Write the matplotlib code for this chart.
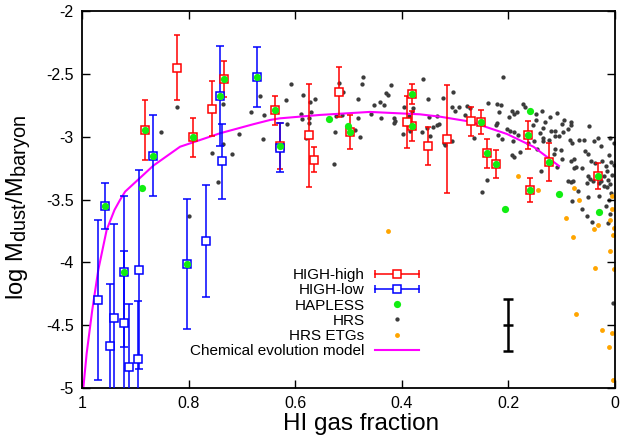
import matplotlib
matplotlib.use("Agg")
import matplotlib.pyplot as plt
from matplotlib.lines import Line2D
from matplotlib.legend_handler import HandlerBase

try:
    import matplotlib._mathtext as _mt
    _mt.SHRINK_FACTOR = 0.85
except Exception:
    pass

plt.rcParams['font.family'] = ['Liberation Sans', 'DejaVu Sans']
plt.rcParams['mathtext.default'] = 'regular'

# ---------------- data ----------------
# HIGH-high (red squares): HI fraction, log Mdust/Mbaryon, error
hh_x = [0.822, 0.882, 0.791, 0.7555, 0.7336, 0.638, 0.6285, 0.574, 0.565, 0.517, 0.497,
        0.3803, 0.3803, 0.390, 0.3514, 0.3146, 0.270, 0.2508, 0.2396, 0.2227, 0.1632,
        0.160, 0.1238, 0.0325]
hh_y = [-2.451, -2.947, -3.005, -2.777, -2.541, -2.79, -3.074, -2.989, -3.185, -2.644, -2.963,
        -2.658, -2.9125, -2.887, -3.072, -3.02, -2.8775, -2.885, -3.132, -3.217, -2.989,
        -3.424, -3.204, -3.313]
hh_err = [0.26, 0.235, 0.153, 0.22, 0.14, 0.115, 0.18, 0.41, 0.10, 0.20, 0.135,
          0.08, 0.12, 0.207, 0.15, 0.43, 0.117, 0.094, 0.115, 0.11, 0.11,
          0.094, 0.15, 0.10]

# HIGH-low (blue squares)
hl_x = [0.866, 0.741, 0.737, 0.672, 0.6285, 0.957, 0.9706, 0.948, 0.939, 0.9206, 0.9206,
        0.911, 0.8925, 0.894, 0.8024, 0.767]
hl_y = [-3.151, -2.676, -3.197, -2.525, -3.09, -3.551, -4.299, -4.663, -4.445, -4.074, -4.48,
        -4.83, -4.058, -4.771, -4.013, -3.83]
hl_err = [0.32, 0.395, 0.30, 0.237, 0.195, 0.18, 0.636, 0.49, 0.75, 0.60, 0.57,
          0.50, 0.79, 0.46, 0.52, 0.447]

# HAPLESS (green circles)
hap_x = [0.888, 0.5366, 0.5015, 0.2064, 0.160, 0.1057, 0.0306,
         0.882, 0.791, 0.7336, 0.638, 0.6285, 0.497, 0.3803, 0.3803, 0.2508, 0.2396,
         0.2227, 0.1632, 0.160, 0.1238, 0.0325,
         0.866, 0.741, 0.672, 0.957, 0.9206, 0.8024]
hap_y = [-3.406, -2.862, -2.912, -3.578, -2.798, -3.453, -3.601,
         -2.947, -3.005, -2.541, -2.79, -3.074, -2.963, -2.658, -2.9125, -2.885, -3.132,
         -3.217, -2.989, -3.424, -3.204, -3.313,
         -3.151, -2.676, -2.525, -3.551, -4.074, -4.013]

# HRS (dark grey dots)
hrs_x = [0.822, 0.852, 0.735, 0.6655, 0.6835, 0.658, 0.7054, 0.660, 0.735, 0.7567, 0.7191,
         0.7454, 0.7992, 0.6079, 0.6178, 0.6148, 0.5859, 0.5728, 0.5629, 0.5891, 0.5694,
         0.5876, 0.575, 0.575, 0.5797, 0.5259, 0.5278, 0.5178, 0.5098, 0.5229, 0.5122,
         0.4872, 0.479, 0.4822, 0.4812, 0.4728, 0.4743, 0.4582, 0.4522, 0.4415, 0.4338,
         0.4381, 0.4293, 0.4263, 0.4203, 0.4146, 0.4128, 0.4141, 0.3972, 0.3953, 0.3869,
         0.3784, 0.3803, 0.3846, 0.3608, 0.3514, 0.348, 0.3615, 0.3522, 0.3471, 0.3409,
         0.3345, 0.3334, 0.3302, 0.3233, 0.3045, 0.3064, 0.2996, 0.2927, 0.2782, 0.2726,
         0.282, 0.3214, 0.318, 0.3064, 0.2096, 0.2383, 0.2208, 0.2144, 0.2171, 0.1938,
         0.19, 0.1844, 0.1983, 0.1732, 0.1694, 0.1375, 0.1477, 0.122, 0.1083, 0.1482,
         0.1319, 0.1533, 0.1356, 0.1345, 0.1195, 0.1413, 0.0962, 0.1, 0.0831, 0.082,
         0.0887, 0.1126, 0.0976, 0.0493, 0.1233, 0.1045, 0.112, 0.085, 0.0812, 0.0681,
         0.0587, 0.0388, 0.0325, 0.0268, 0.0099, 0.0024, 0.2208, 0.2233, 0.2032, 0.197,
         0.1895, 0.2201, 0.2126, 0.1908, 0.1814, 0.1938, 0.19, 0.1627, 0.1514, 0.1469,
         0.1356, 0.112, 0.1144, 0.1013, 0.1, 0.082, 0.0775, 0.0769, 0.0726, 0.0625,
         0.0568, 0.0512, 0.0456, 0.0375, 0.0244, 0.0174, 0.0075, 0.1385, 0.1094, 0.2402,
         0.0876, 0.0826, 0.0512, 0.0475, 0.0418, 0.0206, 0.0137, 0.0099, 0.0062, 0.015,
         0.0206, 0.2501, 0.0788, 0.052, 0.0306, 0.0268, 0.0144, 0.0081, 0.0694, 0.0801,
         0.0501, 0.0295, 0.0107, 0.0174, 0.0619, 0.0525, 0.0088, 0.0437, 0.0131, 0.0028,
         0.1777, 0.264, 0.0107, 0.0024]
hrs_y = [-2.766, -2.963, -2.737, -2.679, -2.803, -2.830, -2.981, -3.016, -3.058, -3.130, -3.140,
         -3.358, -3.631, -2.583, -2.708, -2.901, -2.666, -2.724, -2.702, -2.819, -2.805,
         -2.859, -2.853, -2.893, -3.012, -2.963, -3.215, -2.575, -2.647, -2.838, -2.825,
         -2.947, -3.005, -2.851, -2.704, -2.525, -2.581, -2.817, -2.749, -2.725, -2.744,
         -2.849, -2.650, -2.670, -2.587, -2.849, -2.873, -2.889, -2.977, -2.766, -2.835,
         -2.774, -2.805, -2.952, -2.541, -2.700, -2.841, -2.961, -2.927, -2.998, -2.924,
         -2.837, -2.911, -2.903, -2.690, -2.642, -2.764, -2.793, -2.765, -2.756, -2.772,
         -2.831, -3.048, -3.070, -3.033, -2.527, -2.732, -2.742, -2.748, -2.801, -2.793,
         -2.819, -2.806, -2.841, -2.737, -2.764, -2.793, -2.822, -2.841, -2.809, -2.869,
         -2.883, -2.904, -2.928, -3.008, -2.955, -2.973, -2.867, -2.901, -2.885, -2.909,
         -2.941, -2.952, -2.963, -2.912, -3.029, -2.992, -2.994, -3.029, -3.048, -3.026,
         -3.024, -3.034, -3.013, -3.076, -3.010, -3.052, -2.893, -2.909, -2.941, -2.955,
         -2.960, -2.989, -3.021, -3.037, -2.989, -3.146, -3.164, -3.048, -3.037, -3.095,
         -3.037, -3.098, -3.138, -3.106, -3.175, -3.191, -3.177, -3.251, -3.243, -3.251,
         -3.111, -3.138, -3.193, -3.207, -3.193, -3.233, -3.204, -3.273, -3.243, -3.344,
         -3.350, -3.360, -3.313, -3.334, -3.352, -3.310, -3.344, -3.376, -3.305, -3.275,
         -3.392, -3.444, -3.352, -3.366, -3.371, -3.355, -3.398, -3.445, -3.432, -3.509,
         -3.477, -3.469, -3.503, -3.551, -3.575, -3.633, -3.617, -3.681, -3.689, -4.320,
         -3.119, -3.008, -3.145, -3.227]

# HRS early-type galaxies (orange)
etg_x = [0.1441, 0.0769, 0.0675, 0.0914, 0.0792, 0.0388, 0.0323, 0.0094, 0.0051, 0.0062,
         0.0024, 0.0034, 0.0098, 0.037, 0.0015, 0.182, 0.0737, 0.0238, 0.0056, 0.0118,
         0.0041, 0.4259]
etg_y = [-3.424, -3.408, -3.506, -3.645, -3.800, -3.732, -3.706, -3.667, -3.573, -3.472,
         -3.724, -3.782, -3.908, -4.047, -4.055, -3.315, -4.409, -4.538, -4.565, -4.673,
         -4.935, -3.752]

# Chemical evolution model (magenta curve)
model_x = [0.9975, 0.9912, 0.9807, 0.9694, 0.9537, 0.939, 0.9287, 0.919, 0.866, 0.816,
           0.741, 0.6786, 0.647, 0.6285, 0.5535, 0.46, 0.366, 0.328, 0.272, 0.203, 0.153, 0.105]
model_y = [-5.0, -4.724, -4.379, -4.06, -3.742, -3.583, -3.504, -3.437, -3.23, -3.08,
           -2.973, -2.901, -2.867, -2.854, -2.827, -2.803, -2.822, -2.841, -2.88, -2.978,
           -3.08, -3.233]

# typical error bar
ref_x = [0.2008]
ref_y = [-4.498]
ref_err = [0.21]

xticks = [1, 0.8, 0.6, 0.4, 0.2, 0]
xtick_labels = ['1', '0.8', '0.6', '0.4', '0.2', '0']
yticks = [-2, -2.5, -3, -3.5, -4, -4.5, -5]
ytick_labels = ['-2', '-2.5', '-3', '-3.5', '-4', '-4.5', '-5']

RED = '#ff0000'
BLUE = '#0000ff'
GREEN = '#11ee11'
GREY = '#3c3c3c'
ORANGE = '#ffa500'
MAGENTA = '#ff00ff'

# ---------------- figure ----------------
fig = plt.figure(figsize=(6.22, 4.44), dpi=100)
ax = fig.add_axes([0.1318, 0.1261, 0.9887 - 0.1318, 0.9752 - 0.1261])

ax.plot(hrs_x, hrs_y, 'o', ms=3.1, color=GREY, mew=0, zorder=1)
ax.plot(etg_x, etg_y, 'o', ms=3.5, color=ORANGE, mew=0, zorder=1)
ax.plot(model_x, model_y, '-', color=MAGENTA, lw=1.5, zorder=2)

ax.errorbar(hh_x, hh_y, yerr=hh_err, fmt='s', ms=6.3, mfc='white', mec=RED, mew=1.1,
            ecolor=RED, elinewidth=1.1, capsize=2.3, capthick=1.1, zorder=3)
ax.errorbar(hl_x, hl_y, yerr=hl_err, fmt='s', ms=6.3, mfc='white', mec=BLUE, mew=1.1,
            ecolor=BLUE, elinewidth=1.1, capsize=2.6, capthick=1.1, zorder=3)
ax.plot(hap_x, hap_y, 'o', ms=5.2, color=GREEN, mew=0, zorder=4)

ax.errorbar(ref_x, ref_y, yerr=ref_err, fmt='_', ms=7, mew=1.8, color='black',
            elinewidth=1.8, capsize=3.5, capthick=1.8, zorder=3)

ax.set_xlim(1, 0)
ax.set_ylim(-5, -2)
ax.set_xticks(xticks)
ax.set_xticklabels(xtick_labels)
ax.set_yticks(yticks)
ax.set_yticklabels(ytick_labels)
ax.tick_params(direction='in', length=6, width=1.0, top=True, right=True,
               labelsize=11.5, pad=6)
for s in ax.spines.values():
    s.set_linewidth(1.3)

ax.set_xlabel('HI gas fraction', fontsize=17.5)
ax.xaxis.set_label_coords(0.524, -0.066)
ax.set_ylabel('log M$_{dust}$/M$_{baryon}$', fontsize=17)
ax.yaxis.set_label_coords(-0.092, 0.48)


class HandlerHBar(HandlerBase):
    def create_artists(self, legend, orig_handle, xdescent, ydescent, width, height,
                       fontsize, trans):
        c = orig_handle.get_color()
        y = height / 2 - ydescent
        x0 = -xdescent
        x1 = -xdescent + width
        ln = Line2D([x0, x1], [y, y], color=c, lw=1.1, transform=trans)
        caps = Line2D([x0, x1], [y, y], ls='none', marker='|', ms=6, mew=1.1, color=c,
                      transform=trans)
        mk = Line2D([(x0 + x1) / 2], [y], ls='none', marker='s', ms=6.3, mfc='white',
                    mec=c, mew=1.1, transform=trans)
        return [ln, caps, mk]


h_hh = Line2D([], [], color=RED)
h_hl = Line2D([], [], color=BLUE)
h_hap = Line2D([], [], ls='none', marker='o', ms=5.2, color=GREEN, mew=0)
h_hrs = Line2D([], [], ls='none', marker='o', ms=3.1, color=GREY, mew=0)
h_etg = Line2D([], [], ls='none', marker='o', ms=3.5, color=ORANGE, mew=0)
h_mod = Line2D([], [], color=MAGENTA, lw=1.5)

leg = ax.legend([h_hh, h_hl, h_hap, h_hrs, h_etg, h_mod],
                ['HIGH-high', 'HIGH-low', 'HAPLESS', 'HRS', 'HRS ETGs',
                 'Chemical evolution model'],
                handler_map={h_hh: HandlerHBar(), h_hl: HandlerHBar()},
                loc='upper right', bbox_to_anchor=(0.632, 0.318), frameon=False,
                markerfirst=False, fontsize=11, handlelength=2.9, handletextpad=0.65,
                labelspacing=0.08, borderpad=0, borderaxespad=0, numpoints=1)

fig.savefig('out.png', dpi=100)
